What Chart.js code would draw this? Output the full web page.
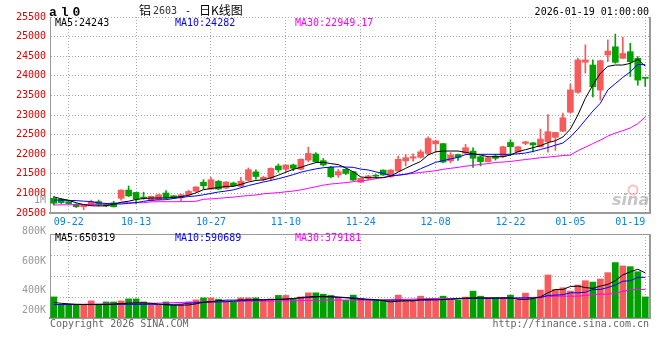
<!DOCTYPE html>
<html>
<head>
<meta charset="utf-8">
<script src="https://cdn.jsdelivr.net/npm/chart.js@4/dist/chart.umd.min.js"></script>
<style>
  html, body { margin: 0; padding: 0; background: #fff; }
  #wrap { position: relative; width: 660px; height: 360px; }
  #wrap canvas { position: absolute; left: 0; top: 0; }
</style>
</head>
<body>
<div id="wrap">
  <canvas id="priceChart" width="660" height="360"></canvas>
  <canvas id="volChart" width="660" height="360"></canvas>
</div>
<script>
// trading days shown on the chart
const days = ['09-18','09-19','09-22','09-23','09-24','09-25','09-26','09-29','09-30','10-09',
  '10-10','10-13','10-14','10-15','10-16','10-17','10-20','10-21','10-22','10-23',
  '10-24','10-27','10-28','10-29','10-30','10-31','11-03','11-04','11-05','11-06',
  '11-07','11-10','11-11','11-12','11-13','11-14','11-17','11-18','11-19','11-20',
  '11-21','11-24','11-25','11-26','11-27','11-28','12-01','12-02','12-03','12-04',
  '12-05','12-08','12-09','12-10','12-11','12-12','12-15','12-16','12-17','12-18',
  '12-19','12-22','12-23','12-24','12-25','12-26','12-29','12-30','12-31','01-05',
  '01-06','01-07','01-08','01-09','01-12','01-13','01-14','01-15','01-16','01-19'];
const xTickLabels = ['09-22','10-13','10-27','11-10','11-24','12-08','12-22','01-05','01-19'];

const opens = [20875,20850,20790,20720,20660,20700,20790,20720,20760,20875,
  21085,21025,20900,20815,20840,21010,20940,20885,20965,21055,
  21285,21110,21310,21135,21265,21180,21335,21550,21360,21385,
  21700,21615,21725,21615,21850,22005,21835,21665,21470,21615,
  21555,21285,21385,21460,21595,21425,21570,21830,21900,21920,
  22020,22265,22270,21830,21990,22025,22080,21935,21810,21955,
  21935,22300,22060,22275,22290,22190,22320,22430,22585,23070,
  23580,24345,24275,23635,24530,24740,24445,24615,24445,23960];
const highs = [20915,20870,20805,20740,20715,20830,20830,20745,20800,21090,
  21190,21030,21030,20930,20980,21070,20950,20980,21080,21170,
  21350,21410,21330,21300,21290,21410,21650,21600,21440,21650,
  21750,21730,21750,21880,22175,22040,21890,21690,21610,21630,
  21560,21390,21460,21480,21600,21610,21950,22000,22010,22110,
  22440,22360,22280,22040,22000,22250,22160,21950,21920,22000,
  22200,22370,22200,22330,22300,22640,23010,22560,23050,23790,
  24450,24790,24405,24400,24915,25065,24985,24830,24490,23965];
const lows = [20705,20740,20725,20640,20585,20690,20680,20660,20650,20830,
  20920,20730,20850,20800,20830,20870,20870,20815,20940,21045,
  21110,21100,21100,21120,21180,21170,21320,21365,21320,21340,
  21540,21540,21580,21600,21810,21790,21700,21400,21410,21480,
  21330,21270,21350,21390,21460,21410,21560,21700,21820,21900,
  21990,22050,21780,21780,21840,22010,21660,21700,21800,21850,
  21920,21970,22050,22240,22060,22180,22050,22100,22580,23050,
  23550,24070,23460,23380,24360,24320,24440,23980,23760,23730];
const closes = [20750,20765,20740,20660,20700,20790,20705,20680,20660,21085,
  20935,20855,20880,20925,20965,20885,20885,20965,21050,21165,
  21195,21350,21110,21290,21195,21310,21605,21430,21410,21640,
  21600,21725,21640,21870,22020,21810,21725,21425,21555,21510,
  21340,21385,21445,21440,21470,21595,21870,21910,21935,22060,
  22400,22340,21800,21980,21920,22165,21895,21810,21910,21895,
  22190,22190,22190,22315,22235,22385,22575,22555,22930,23640,
  24405,24405,23720,24385,24630,24345,24570,24360,23890,23935];

const ma5 = [20915,20860,20825,20760,20715,20685,20680,20685,20725,20775,
  20800,20845,20870,20882,20882,20882,20895,20920,20950,21015,
  21095,21125,21150,21180,21180,21230,21290,21330,21345,21395,
  21465,21540,21615,21665,21730,21785,21795,21760,21735,21650,
  21550,21420,21400,21400,21400,21440,21545,21640,21730,21815,
  21980,22060,22081,22081,22081,22047,22012,21979,21936,21936,
  21936,21979,22064,22115,22166,22217,22293,22344,22438,22642,
  23000,23425,23764,24062,24240,24275,24275,24317,24420,24243];
const ma10 = [20830,20830,20822,20816,20802,20790,20758,20742,20733,20730,
  20745,20765,20798,20826,20833,20840,20870,20897,20920,20935,
  20965,21000,21035,21060,21090,21145,21200,21245,21290,21330,
  21375,21425,21480,21540,21585,21625,21655,21670,21680,21672,
  21665,21620,21597,21550,21510,21455,21465,21487,21540,21630,
  21710,21793,21835,21880,21920,21990,21997,21997,21997,21997,
  21997,21997,22010,22030,22070,22120,22170,22230,22285,22440,
  22640,22870,23100,23300,23640,23800,23960,24100,24290,24282];
const ma30 = [20705,20708,20710,20712,20716,20720,20725,20728,20730,20760,
  20763,20763,20763,20785,20788,20788,20788,20790,20792,20800,
  20850,20860,20875,20890,20905,20928,20945,20960,20990,21005,
  21020,21040,21060,21090,21130,21170,21210,21240,21255,21275,
  21300,21320,21340,21375,21410,21440,21465,21490,21510,21535,
  21555,21580,21615,21640,21665,21695,21715,21741,21760,21790,
  21800,21815,21840,21865,21885,21910,21925,21945,21965,21979,
  22090,22180,22270,22360,22460,22540,22600,22670,22780,22949.17];

const volumes = [201000,129000,129000,129000,129000,163000,129000,153000,153000,163000,
  182000,182000,153000,122000,122000,153000,122000,129000,153000,173000,
  192000,192000,179000,153000,153000,192000,192000,192000,173000,182000,
  215000,215000,179000,201000,240000,240000,227000,215000,196000,170000,
  218000,186000,170000,170000,170000,170000,218000,170000,170000,208000,
  186000,186000,208000,170000,170000,199000,256000,208000,192000,192000,
  192000,218000,170000,237000,182000,266000,410000,272000,288000,256000,
  314000,355000,342000,371000,432000,528000,496000,489000,441000,201000];
const volMa5 = [148000,140000,135000,130000,128000,128000,128000,128000,132000,138000,
  142000,144000,144000,140000,132000,125000,122000,122000,124000,135000,
  150000,155000,165000,170000,170000,172000,172000,172000,172000,175000,
  178000,180000,185000,195000,201000,205000,206000,203000,200000,195000,
  185000,179000,179000,175000,165000,153000,160000,163000,163000,176000,
  176000,176000,176000,180000,185000,190000,192000,192000,192000,192000,
  192000,192000,178000,176000,185000,201000,240000,272000,272000,300000,
  304000,290000,282000,304000,320000,355000,410000,440000,464000,430000];
const volMa10 = [128000,128000,128000,128000,128000,129000,129000,130000,130000,130000,
  130000,130000,130000,130000,130000,130000,130000,132000,140000,145000,
  150000,153000,153000,155000,160000,165000,170000,172000,175000,176000,
  176000,180000,185000,190000,195000,200000,201000,201000,196000,192000,
  192000,185000,175000,170000,170000,170000,170000,170000,170000,170000,
  170000,172000,175000,178000,182000,186000,186000,186000,186000,186000,
  188000,190000,192000,192000,192000,195000,215000,218000,222000,240000,
  240000,245000,272000,272000,290000,314000,350000,355000,387000,387000];
const volMa30 = [128000,128000,129000,130000,131000,132000,133000,134000,135000,136000,
  137000,138000,139000,140000,142000,144000,146000,148000,150000,152000,
  153000,154000,155000,156000,157000,158000,159000,160000,161000,162000,
  163000,164000,165000,166000,167000,168000,169000,170000,170000,170000,
  170000,170000,170000,170000,172000,174000,176000,178000,180000,182000,
  184000,186000,186000,186000,186000,186000,186000,186000,186000,186000,
  186000,186000,186000,190000,195000,200000,204000,208000,208000,208000,
  208000,215000,222000,227000,227000,235000,255000,268000,272000,272000];
const volMaLast = [650319, 590689, 379181];

const priceMin = 20500, priceMax = 25500, priceStep = 500;
const volMax = 800000, volStep = 200000;
const volAxisLabels = ['1M', '800K', '600K', '400K', '200K'];

const UP = '#f65a5a', DOWN = '#00a000';
const GRID = '#a8a8a8', AXIS = '#999999';
const MONO = '"DejaVu Sans Mono", monospace';

Chart.defaults.font.family = MONO;
Chart.defaults.font.size = 10;

const candleColors = closes.map((c, i) => (c >= opens[i] ? UP : DOWN));
const isLabeled = i => xTickLabels.includes(days[i]);

function xAxis(showLabels) {
  return {
    type: 'category',
    offset: true,
    grid: {
      offset: false,
      drawTicks: false,
      color: c => (isLabeled(c.index) ? GRID : 'rgba(0,0,0,0)')
    },
    border: { display: true, color: AXIS, width: 2, dash: [1, 2] },
    ticks: {
      display: showLabels,
      autoSkip: false,
      maxRotation: 0,
      minRotation: 0,
      align: 'inner',
      padding: 3,
      color: '#0a84e0',
      callback: (v, i) => (isLabeled(i) ? days[i] : '')
    },
    afterFit: s => {
      s.height = showLabels ? 16 : 0;
      s.paddingLeft = 0;
      s.paddingRight = 0;
    }
  };
}

const mainText = {
  id: 'mainText',
  afterDraw(chart) {
    const { ctx, chartArea: a } = chart;
    ctx.save();
    // right frame
    ctx.strokeStyle = AXIS;
    ctx.lineWidth = 2;
    ctx.beginPath();
    ctx.moveTo(a.right + 1, a.top);
    ctx.lineTo(a.right + 1, a.bottom + 1);
    ctx.stroke();

    ctx.font = '10px ' + MONO;
    ctx.textBaseline = 'middle';
    ctx.fillStyle = '#000000';
    ctx.fillText('MA5:' + ma5[ma5.length - 1], a.left + 5, a.top + 6.5);
    ctx.fillStyle = '#0000ff';
    ctx.fillText('MA10:' + ma10[ma10.length - 1], a.left + 125, a.top + 6.5);
    ctx.fillStyle = '#ff00ff';
    ctx.fillText('MA30:' + ma30[ma30.length - 1], a.left + 245, a.top + 6.5);

    // header
    ctx.textBaseline = 'alphabetic';
    ctx.fillStyle = '#000000';
    ctx.textAlign = 'right';
    ctx.fillText('2026-01-19 01:00:00', a.right, 15);
    ctx.textAlign = 'left';
    ctx.font = '12px "Noto Sans CJK SC"';
    ctx.fillText('铝', 139, 15);
    ctx.fillText('日K线图', 199, 15);
    ctx.font = '10px ' + MONO;
    ctx.fillStyle = '#333333';
    ctx.fillText('2603', 153, 14);
    ctx.fillStyle = '#000000';
    ctx.fillText('-', 185, 14);
    ctx.font = 'bold 13px "Liberation Mono"';
    ctx.letterSpacing = '4px';
    ctx.fillText('al0', 49, 16);
    ctx.letterSpacing = '0px';

    // watermark
    ctx.strokeStyle = 'rgba(240,120,120,0.45)';
    ctx.lineWidth = 2;
    ctx.beginPath();
    ctx.arc(633, 190, 4.5, 0, Math.PI * 2);
    ctx.stroke();
    ctx.font = 'italic bold 16px "DejaVu Sans"';
    ctx.fillStyle = 'rgba(150,150,150,0.55)';
    ctx.fillText('sina', 612, 205);
    ctx.restore();
  }
};

const volText = {
  id: 'volText',
  afterDraw(chart) {
    const { ctx, chartArea: a } = chart;
    ctx.save();
    ctx.strokeStyle = AXIS;
    ctx.lineWidth = 1;
    ctx.beginPath();
    ctx.moveTo(a.left, a.top + 0.5);
    ctx.lineTo(a.right + 2, a.top + 0.5);
    ctx.stroke();
    ctx.lineWidth = 2;
    ctx.beginPath();
    ctx.moveTo(a.right + 1, a.top);
    ctx.lineTo(a.right + 1, a.bottom + 1);
    ctx.stroke();

    ctx.font = '10px ' + MONO;
    ctx.textBaseline = 'middle';
    ctx.fillStyle = '#000000';
    ctx.fillText('MA5:' + volMaLast[0], a.left + 5, a.top + 4);
    ctx.fillStyle = '#0000ff';
    ctx.fillText('MA10:' + volMaLast[1], a.left + 125, a.top + 4);
    ctx.fillStyle = '#ff00ff';
    ctx.fillText('MA30:' + volMaLast[2], a.left + 245, a.top + 4);

    // volume axis labels
    const offsets = [-34, -3, 27, 56, 76];
    ctx.textAlign = 'right';
    ctx.fillStyle = '#999999';
    volAxisLabels.forEach((t, k) => ctx.fillText(t, a.left - 4, a.top + offsets[k]));

    // footer
    ctx.textBaseline = 'alphabetic';
    ctx.fillStyle = '#666666';
    ctx.textAlign = 'left';
    ctx.fillText('Copyright 2026 SINA.COM', a.left, 327);
    ctx.textAlign = 'right';
    ctx.fillText('http://finance.sina.com.cn', a.right, 327);
    ctx.restore();
  }
};

const lineSet = (data, color) => ({
  type: 'line',
  data: data,
  borderColor: color,
  borderWidth: 1,
  pointRadius: 0,
  tension: 0,
  order: 0
});

new Chart(document.getElementById('priceChart'), {
  type: 'bar',
  data: {
    labels: days,
    datasets: [
      {
        data: lows.map((l, i) => [l, highs[i]]),
        backgroundColor: candleColors,
        barThickness: 1,
        grouped: false,
        order: 2
      },
      {
        data: opens.map((o, i) => [o, closes[i]]),
        backgroundColor: candleColors,
        barThickness: 6,
        minBarLength: 1,
        grouped: false,
        order: 1
      },
      lineSet(ma5, '#000000'),
      lineSet(ma10, '#0000ff'),
      lineSet(ma30, '#ff00ff')
    ]
  },
  options: {
    responsive: false,
    animation: false,
    events: [],
    layout: { padding: { top: 17, right: 11, bottom: 131, left: 0 } },
    plugins: { legend: { display: false }, tooltip: { enabled: false } },
    scales: {
      x: xAxis(true),
      y: {
        min: priceMin,
        max: priceMax,
        ticks: { stepSize: priceStep, color: '#e00000', padding: 4, callback: v => String(v) },
        grid: { color: GRID, drawTicks: false },
        border: { color: AXIS, width: 1, dash: [1, 2] },
        afterFit: s => { s.width = 50; }
      }
    }
  },
  plugins: [mainText]
});

new Chart(document.getElementById('volChart'), {
  type: 'bar',
  data: {
    labels: days,
    datasets: [
      {
        data: volumes,
        backgroundColor: candleColors,
        barThickness: 6,
        grouped: false,
        order: 1
      },
      lineSet(volMa5, '#000000'),
      lineSet(volMa10, '#0000ff'),
      lineSet(volMa30, '#ff00ff')
    ]
  },
  options: {
    responsive: false,
    animation: false,
    events: [],
    layout: { padding: { top: 234, right: 11, bottom: 42, left: 0 } },
    plugins: { legend: { display: false }, tooltip: { enabled: false } },
    scales: {
      x: xAxis(false),
      y: {
        min: 0,
        max: volMax,
        ticks: { stepSize: volStep, display: false },
        grid: { color: GRID, drawTicks: false },
        border: { color: AXIS, width: 1, dash: [1, 2] },
        afterFit: s => { s.width = 50; }
      }
    }
  },
  plugins: [volText]
});
</script>
</body>
</html>
